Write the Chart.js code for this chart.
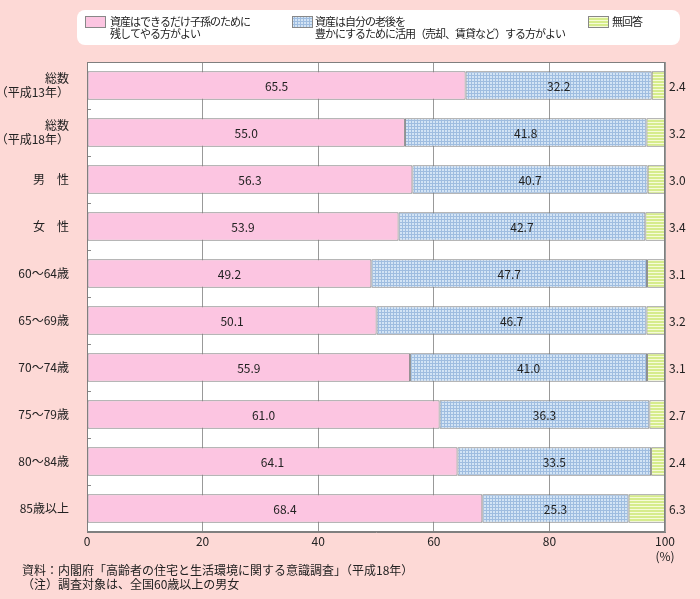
<!DOCTYPE html>
<html>
<head>
<meta charset="utf-8">
<script src="https://cdn.jsdelivr.net/npm/chart.js@4"></script>
<style>
  html, body { margin: 0; padding: 0; background: #fdd9d6; }
  #wrap { width: 700px; height: 599px; position: relative; }
</style>
</head>
<body>
<div id="wrap"><canvas id="chart" width="700" height="599"></canvas></div>
<script>
// カテゴリ
const categories = [
    ['総数', '（平成13年）'],
    ['総数', '（平成18年）'],
    '男　性',
    '女　性',
    '60～64歳',
    '65～69歳',
    '70～74歳',
    '75～79歳',
    '80～84歳',
    '85歳以上'
];

// 系列名
const seriesNames = [
    ['資産はできるだけ子孫のために', '残してやる方がよい'],
    ['資産は自分の老後を', '豊かにするために活用（売却、賃貸など）する方がよい'],
    ['無回答']
];

// 系列データ (%)
const leaveToHeirs = [65.5, 55.0, 56.3, 53.9, 49.2, 50.1, 55.9, 61.0, 64.1, 68.4];
const useForSelf   = [32.2, 41.8, 40.7, 42.7, 47.7, 46.7, 41.0, 36.3, 33.5, 25.3];
const noAnswer     = [2.4, 3.2, 3.0, 3.4, 3.1, 3.2, 3.1, 2.7, 2.4, 6.3];

// 軸目盛
const xTicks = [0, 20, 40, 60, 80, 100];

const notes = [
    '資料：内閣府「高齢者の住宅と生活環境に関する意識調査」（平成18年）',
    '（注）調査対象は、全国60歳以上の男女'
];

const FONT = '"Noto Sans CJK JP", "Noto Sans", sans-serif';

// 塗りパターン
function makeDotPattern() {
    const c = document.createElement('canvas');
    c.width = 3; c.height = 3;
    const g = c.getContext('2d');
    g.fillStyle = '#d3e4f5';
    g.fillRect(0, 0, 3, 3);
    g.fillStyle = '#9fbde0';
    g.fillRect(0, 0, 3, 1);
    g.fillRect(0, 0, 1, 3);
    return g.createPattern(c, 'repeat');
}
function makeStripePattern() {
    const c = document.createElement('canvas');
    c.width = 3; c.height = 3;
    const g = c.getContext('2d');
    g.fillStyle = '#f6fbd9';
    g.fillRect(0, 0, 3, 3);
    g.fillStyle = '#d6ec8c';
    g.fillRect(0, 0, 3, 2);
    return g.createPattern(c, 'repeat');
}

const ctx = document.getElementById('chart').getContext('2d');
const fills = ['#fcc5e1', makeDotPattern(), makeStripePattern()];

// 凡例・注記・数値ラベル
const overlayPlugin = {
    id: 'overlay',
    beforeDraw(chart) {
        const c = chart.ctx;
        const a = chart.chartArea;
        c.save();
        c.fillStyle = '#ffffff';
        c.fillRect(a.left, a.top, a.right - a.left, a.bottom - a.top);
        // 凡例ボックス
        c.beginPath();
        c.roundRect(77, 10, 603, 35, 8);
        c.fill();
        const items = [[85, 110], [292, 315], [588, 612]];
        c.font = '11px ' + FONT;
        c.letterSpacing = '-1px';
        c.textBaseline = 'middle';
        c.textAlign = 'left';
        items.forEach((it, i) => {
            c.fillStyle = fills[i];
            c.fillRect(it[0], 16, 21, 12);
            c.strokeStyle = '#888';
            c.lineWidth = 1;
            c.strokeRect(it[0] + 0.5, 16.5, 20, 11);
            c.fillStyle = '#222';
            seriesNames[i].forEach((t, j) => c.fillText(t, it[1], 22 + j * 12));
        });
        // 注記
        c.letterSpacing = '0px';
        c.font = '12px ' + FONT;
        notes.forEach((t, j) => c.fillText(t, 22, 570 + j * 14));
        c.restore();
    },
    afterDraw(chart) {
        const c = chart.ctx;
        const a = chart.chartArea;
        c.save();
        // 左側の小目盛
        c.strokeStyle = '#888';
        c.lineWidth = 1;
        const yScale = chart.scales.y;
        for (let i = 1; i < categories.length; i++) {
            const y = Math.round((yScale.getPixelForValue(i - 1) + yScale.getPixelForValue(i)) / 2) + 0.5;
            c.beginPath();
            c.moveTo(a.left + 1, y);
            c.lineTo(a.left + 4, y);
            c.stroke();
        }
        // 数値ラベル
        c.font = '12px ' + FONT;
        c.fillStyle = '#222';
        c.textBaseline = 'middle';
        [0, 1].forEach(di => {
            const meta = chart.getDatasetMeta(di);
            meta.data.forEach((bar, i) => {
                const v = chart.data.datasets[di].data[i];
                c.textAlign = 'center';
                c.fillText(v.toFixed(1), (bar.base + bar.x) / 2, bar.y + 1);
            });
        });
        const meta3 = chart.getDatasetMeta(2);
        meta3.data.forEach((bar, i) => {
            c.textAlign = 'left';
            c.fillText(noAnswer[i].toFixed(1), a.right + 4, bar.y + 1);
        });
        // (%)
        c.textAlign = 'center';
        c.fillText('(%)', a.right, 556);
        c.restore();
    }
};

new Chart(ctx, {
    type: 'bar',
    data: {
        labels: categories,
        datasets: [
            { label: seriesNames[0].join(''), data: leaveToHeirs, backgroundColor: fills[0] },
            { label: seriesNames[1].join(''), data: useForSelf, backgroundColor: fills[1] },
            { label: seriesNames[2].join(''), data: noAnswer, backgroundColor: fills[2] }
        ].map(d => Object.assign(d, {
            borderColor: '#7f7f7f',
            borderWidth: 1,
            borderSkipped: false,
            barPercentage: 0.61,
            categoryPercentage: 1
        }))
    },
    options: {
        indexAxis: 'y',
        responsive: false,
        animation: false,
        layout: { padding: { top: 62, right: 35, bottom: 42, left: 0 } },
        plugins: {
            legend: { display: false },
            tooltip: { enabled: false }
        },
        scales: {
            x: {
                stacked: true,
                min: 0,
                max: 100,
                afterBuildTicks(scale) {
                    scale.ticks = xTicks.map(v => ({ value: v }));
                },
                afterFit(scale) { scale.height = 25; },
                grid: { color: '#999', drawTicks: false },
                border: { color: '#7f7f7f' },
                ticks: { color: '#222', font: { family: FONT, size: 12 }, padding: 2 }
            },
            y: {
                stacked: true,
                afterFit(scale) { scale.width = 87; },
                grid: { display: false },
                border: { color: '#7f7f7f' },
                ticks: { color: '#222', font: { family: FONT, size: 12, lineHeight: 1.1 }, padding: 10 }
            }
        }
    },
    plugins: [overlayPlugin, {
        id: 'frame',
        afterDatasetsDraw(chart) {
            const a = chart.chartArea;
            const c = chart.ctx;
            c.save();
            c.strokeStyle = '#7f7f7f';
            c.lineWidth = 1;
            c.strokeRect(Math.round(a.left) + 0.5, Math.round(a.top) + 0.5,
                Math.round(a.right - a.left) - 1, Math.round(a.bottom - a.top) - 1);
            c.restore();
        }
    }]
});
</script>
</body>
</html>
